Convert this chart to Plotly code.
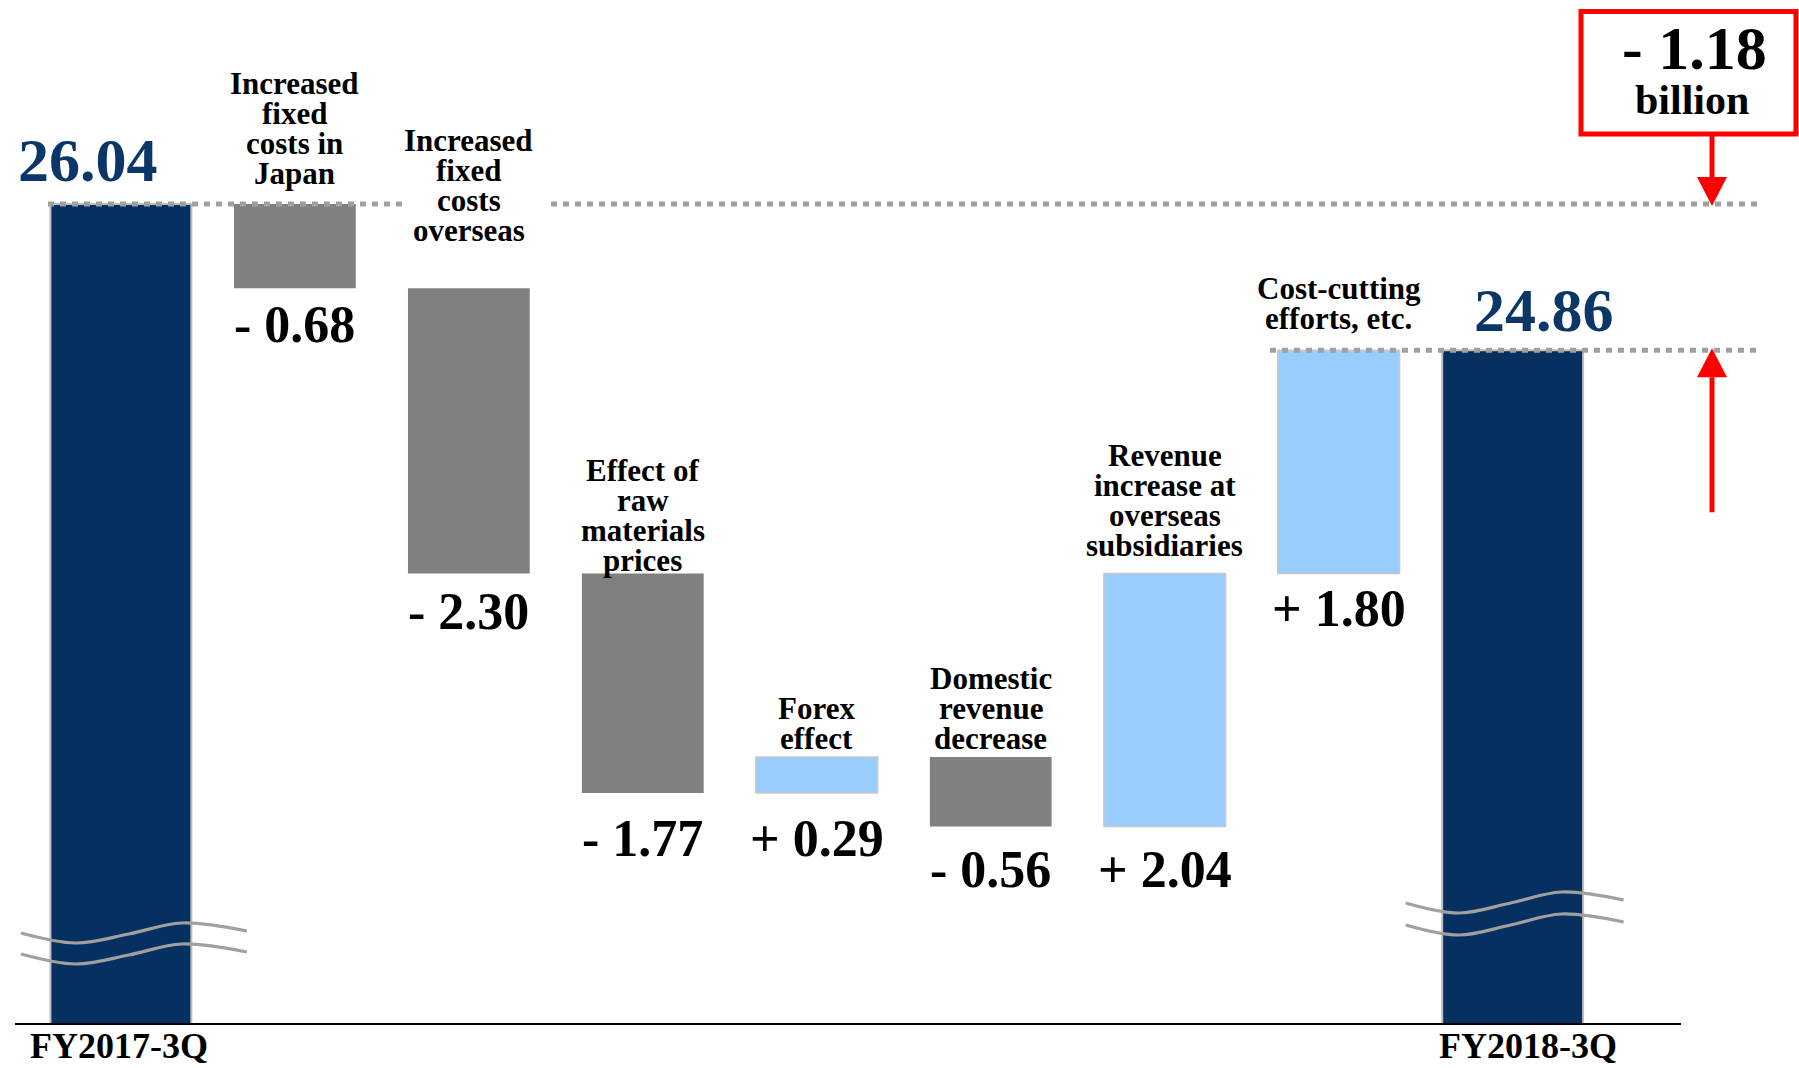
import plotly.graph_objects as go

# ---------------- data ----------------
CATEGORIES = [
    "FY2017-3Q",
    "Increased\nfixed\ncosts in\nJapan",
    "Increased\nfixed\ncosts\noverseas",
    "Effect of\nraw\nmaterials\nprices",
    "Forex\neffect",
    "Domestic\nrevenue\ndecrease",
    "Revenue\nincrease at\noverseas\nsubsidiaries",
    "Cost-cutting\nefforts, etc.",
    "FY2018-3Q",
]
START_VALUE = 26.04
END_VALUE = 24.86
DELTAS = [-0.68, -2.30, -1.77, 0.29, -0.56, 2.04, 1.80]
CHANGE_TEXT = "- 1.18"
CHANGE_UNIT = "billion"

# ---------------- layout constants ----------------
W, H = 1799, 1068
M_B = 44
PLOT_H = H - M_B
X_RANGE = [-0.695, 9.646]
Y_RANGE = [19.427, 27.685]
FONT = "Liberation Serif, Times New Roman, serif"
NAVY = "#06305F"
NAVY_TXT = "#0B3768"
GRAY = "#808080"
LIGHT = "#99CCFF"
DOT = "#A0A0A0"
RED = "#FF0000"

# label placement (pixels)
STEP_GAP = [30, 58, 13, 19, 19, 28, 32]      # bar top -> bottom line of step label
VALUE_GAP = [36, 38, 46, 46, 43, 43, 35]     # bar bottom -> value label centre
LINE_PX = 30


def dx(px):
    return px * (X_RANGE[1] - X_RANGE[0]) / W


def dy(px):
    return px * (Y_RANGE[1] - Y_RANGE[0]) / PLOT_H


def px_x(px):
    return X_RANGE[0] + dx(px)


def py_y(py):
    return Y_RANGE[1] - dy(py)


n = len(CATEGORIES)
xs = list(range(n))
cum = [START_VALUE]
for d in DELTAS:
    cum.append(cum[-1] + d)

bases, heights, colors, widths, lcol, lw = [], [], [], [], [], []
# start total
bases.append(0); heights.append(START_VALUE); colors.append(NAVY); widths.append(0.81)
lcol.append("#BFBFBF"); lw.append(2)
for i, d in enumerate(DELTAS):
    bases.append(cum[i]); heights.append(d)
    colors.append(LIGHT if d > 0 else GRAY)
    widths.append(0.70)
    lcol.append("#C8C8C8" if d > 0 else GRAY)
    lw.append(1.5 if d > 0 else 0)
bases.append(0); heights.append(END_VALUE); colors.append(NAVY); widths.append(0.81)
lcol.append("#BFBFBF"); lw.append(2)

fig = go.Figure()
fig.add_trace(go.Bar(
    x=xs, y=heights, base=bases, width=widths,
    marker=dict(color=colors, line=dict(color=lcol, width=lw)),
    hoverinfo="skip", showlegend=False,
))

# ---------- axis break waves on total bars ----------
def wave(xc, pts, shift):
    return go.Scatter(
        x=[xc + dx(p[0]) for p in pts],
        y=[py_y(p[1] + shift) for p in pts],
        mode="lines", line=dict(color=DOT, width=3.2, shape="spline", smoothing=1.0),
        hoverinfo="skip", showlegend=False,
    )

wave0 = [(-100, 933), (-45, 943), (8, 934), (61, 923), (126, 931)]
wave8 = [(-107, 903), (-54, 913), (-2, 903), (49, 892), (111, 900)]
for s in (0, 21):
    fig.add_trace(wave(xs[0], wave0, s))
for s in (0, 22):
    fig.add_trace(wave(xs[-1], wave8, s))

shapes = []
annotations = []

# dotted reference lines
dot_line = dict(color=DOT, width=5, dash="6px,6px")
for a, b, v in [(48, 407, START_VALUE), (551, 1758, START_VALUE), (1270, 1757, END_VALUE)]:
    shapes.append(dict(type="line", xref="x", yref="y", x0=px_x(a), x1=px_x(b),
                       y0=v, y1=v, line=dot_line, layer="above"))

# baseline
shapes.append(dict(type="line", xref="x", yref="paper", x0=px_x(15), x1=px_x(1681),
                   y0=0, y1=0, line=dict(color="black", width=2), layer="above"))

# red box
shapes.append(dict(type="rect", xref="paper", yref="paper",
                   x0=1581 / W, x1=1796 / W,
                   y0=(PLOT_H - 134) / PLOT_H, y1=(PLOT_H - 11.5) / PLOT_H,
                   line=dict(color=RED, width=5), fillcolor="white", layer="above"))

# red arrows
ax = px_x(1712)
hw = dx(15)
hl = dy(27)
box_bottom = py_y(134)
# down arrow -> start level
shapes.append(dict(type="line", xref="x", yref="y", x0=ax, x1=ax,
                   y0=box_bottom, y1=START_VALUE + hl, line=dict(color=RED, width=5)))
shapes.append(dict(type="path", xref="x", yref="y",
                   path=f"M {ax - hw},{START_VALUE + hl} L {ax + hw},{START_VALUE + hl} L {ax},{START_VALUE - dy(2)} Z",
                   fillcolor=RED, line=dict(color=RED, width=0)))
# up arrow -> end level
shapes.append(dict(type="line", xref="x", yref="y", x0=ax, x1=ax,
                   y0=END_VALUE - dy(162), y1=END_VALUE - hl, line=dict(color=RED, width=5)))
shapes.append(dict(type="path", xref="x", yref="y",
                   path=f"M {ax - hw},{END_VALUE - hl} L {ax + hw},{END_VALUE - hl} L {ax},{END_VALUE + dy(2)} Z",
                   fillcolor=RED, line=dict(color=RED, width=0)))


def ann(text, x, y, size, color="black", xref="x", yref="y", xshift=0, yshift=0):
    return dict(text=f"<b>{text}</b>", x=x, y=y, xref=xref, yref=yref, showarrow=False,
                font=dict(family=FONT, size=size, color=color),
                xanchor="center", yanchor="middle", xshift=xshift, yshift=yshift)


# total labels
annotations.append(ann(f"{START_VALUE:.2f}", xs[0], START_VALUE, 62, NAVY_TXT, xshift=-33, yshift=44))
annotations.append(ann(f"{END_VALUE:.2f}", xs[-1], END_VALUE, 62, NAVY_TXT, xshift=31, yshift=40))

# category labels on the axis
annotations.append(ann(CATEGORIES[0], xs[0], 0, 36, yref="paper", xshift=-2, yshift=-22))
annotations.append(ann(CATEGORIES[-1], xs[-1], 0, 36, yref="paper", xshift=15, yshift=-22))

# step labels and value labels
for i, d in enumerate(DELTAS):
    xi = xs[i + 1]
    top = max(cum[i], cum[i + 1])
    bottom = min(cum[i], cum[i + 1])
    lines = CATEGORIES[i + 1].split("\n")
    for k, line in enumerate(reversed(lines)):
        annotations.append(ann(line, xi, top, 31, yshift=STEP_GAP[i] + k * LINE_PX))
    sign = "+" if d > 0 else "-"
    annotations.append(ann(f"{sign} {abs(d):.2f}", xi, bottom, 52, yshift=-VALUE_GAP[i]))

# change box text
annotations.append(ann(CHANGE_TEXT, 1694 / W, (PLOT_H - 48) / PLOT_H, 62, xref="paper", yref="paper"))
annotations.append(ann(CHANGE_UNIT, 1692 / W, (PLOT_H - 100) / PLOT_H, 42, xref="paper", yref="paper"))

fig.update_layout(
    width=W, height=H, autosize=False,
    margin=dict(l=0, r=0, t=0, b=M_B, pad=0),
    paper_bgcolor="white", plot_bgcolor="white",
    barmode="overlay",
    xaxis=dict(range=X_RANGE, visible=False, fixedrange=True),
    yaxis=dict(range=Y_RANGE, visible=False, fixedrange=True),
    shapes=shapes, annotations=annotations, showlegend=False,
)

fig.write_html("out.html")
